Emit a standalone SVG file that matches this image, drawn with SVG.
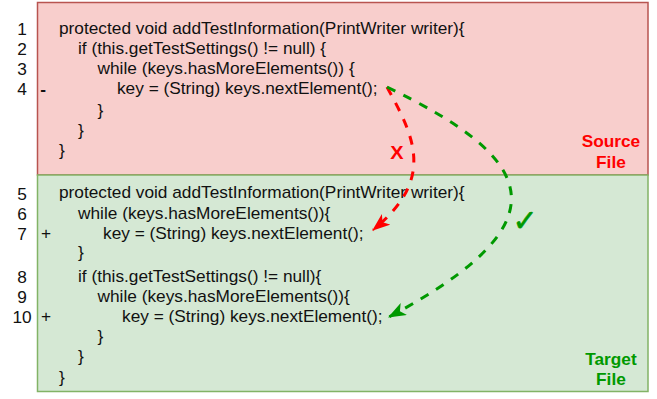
<svg xmlns="http://www.w3.org/2000/svg" width="657" height="399" viewBox="0 0 657 399">
<defs>
<style>
.code{font-family:"Liberation Sans",Arial,sans-serif;font-size:16px;fill:#111111;}
.num{font-family:"Liberation Sans",Arial,sans-serif;font-size:16px;fill:#111111;text-anchor:middle;}
.lbl{font-family:"Liberation Sans",Arial,sans-serif;font-size:16px;font-weight:bold;text-anchor:middle;}
.red{fill:#FF0000;}
.green{fill:#009900;}
.conn{fill:none;stroke-width:3;stroke-dasharray:9 9;}
</style>
<marker id="arrRed" markerUnits="userSpaceOnUse" viewBox="0 0 16 12" refX="15" refY="6" markerWidth="18" markerHeight="13.5" orient="auto">
<path d="M0,0 L16,6 L0,12 L4,6 Z" fill="#FF0000"/>
</marker>
<marker id="arrGreen" markerUnits="userSpaceOnUse" viewBox="0 0 16 12" refX="15" refY="6" markerWidth="18" markerHeight="13.5" orient="auto">
<path d="M0,0 L16,6 L0,12 L4,6 Z" fill="#009900"/>
</marker>
</defs>
<rect width="657" height="399" fill="#ffffff"/>
<g id="source-file">
<rect x="37.5" y="2.5" width="610.5" height="172.5" fill="#f8cecc" stroke="#b85450" stroke-width="1.5"/>
<g transform="scale(1.08,1)">
<text class="num" x="20.37" y="35">1</text>
<text class="num" x="20.37" y="55">2</text>
<text class="num" x="20.37" y="75">3</text>
<text class="num" x="20.37" y="95">4</text>
<text class="code" x="37.3" y="95" style="font-weight:bold;">-</text>
<text class="code" x="54.63" y="34.5">protected void addTestInformation(PrintWriter writer){</text>
<text class="code" x="72.22" y="54.5">if (this.getTestSettings() != null) {</text>
<text class="code" x="90.28" y="74.5">while (keys.hasMoreElements()) {</text>
<text class="code" x="108.33" y="94.5">key = (String) keys.nextElement();</text>
<text class="code" x="90.28" y="116.5">}</text>
<text class="code" x="72.22" y="136.5">}</text>
<text class="code" x="54.63" y="156.5">}</text>
<text class="lbl red" x="565.7" y="147.5">Source</text>
<text class="lbl red" x="565.7" y="168.5">File</text>
</g>
</g>
<g id="target-file">
<rect x="37.5" y="175" width="610.5" height="216.5" fill="#d5e8d4" stroke="#82b366" stroke-width="1.5"/>
<g transform="scale(1.08,1)">
<text class="num" x="20.37" y="200">5</text>
<text class="num" x="20.37" y="220">6</text>
<text class="num" x="20.37" y="240">7</text>
<text class="num" x="20.37" y="283">8</text>
<text class="num" x="20.37" y="303">9</text>
<text class="num" x="20.37" y="323">10</text>
<text class="code" x="38" y="239.5">+</text>
<text class="code" x="38" y="322">+</text>
<text class="code" x="54.63" y="198.5">protected void addTestInformation(PrintWriter writer){</text>
<text class="code" x="72.22" y="219">while (keys.hasMoreElements()){</text>
<text class="code" x="95.37" y="239.5">key = (String) keys.nextElement();</text>
<text class="code" x="72.22" y="258">}</text>
<text class="code" x="72.22" y="282">if (this.getTestSettings() != null){</text>
<text class="code" x="90.28" y="302">while (keys.hasMoreElements()){</text>
<text class="code" x="112.96" y="322">key = (String) keys.nextElement();</text>
<text class="code" x="90.28" y="342">}</text>
<text class="code" x="72.22" y="362.5">}</text>
<text class="code" x="54.63" y="383">}</text>
<text class="lbl green" x="565.7" y="365">Target</text>
<text class="lbl green" x="565.7" y="385">File</text>
</g>
</g>
<g id="connectors">
<path id="edge-wrong" class="conn" stroke="#FF0000" d="M387,87 C413,135 437,178 373,230" marker-end="url(#arrRed)"/>
<path id="edge-right" class="conn" stroke="#009900" d="M387,87 C534,158 570,220 389,317" marker-end="url(#arrGreen)"/>
<text transform="scale(1.08,1)" x="367.6" y="159.3" style="font-family:'Liberation Sans',Arial,sans-serif;font-size:18.5px;font-weight:bold;fill:#FF0000;text-anchor:middle;">X</text>
<text x="525" y="231" style="font-family:'DejaVu Sans',sans-serif;font-size:30px;font-weight:bold;fill:#009900;stroke:#009900;stroke-width:0.6;text-anchor:middle;">✓</text>
</g>
</svg>
